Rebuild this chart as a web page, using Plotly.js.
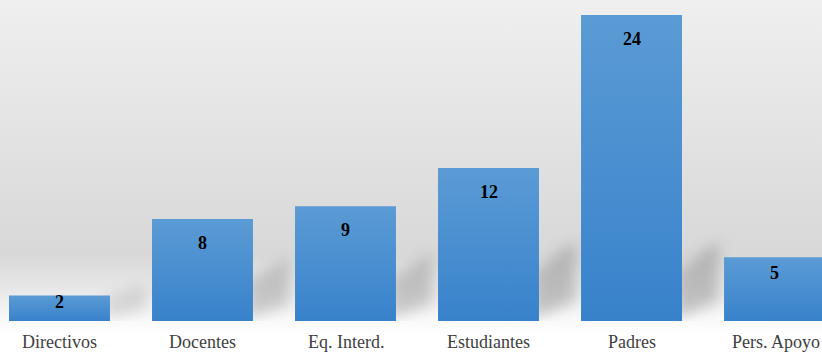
<!DOCTYPE html>
<html>
<head>
<meta charset="utf-8">
<script src="https://cdn.plot.ly/plotly-3.0.1.min.js"></script>
<style>
html,body{margin:0;padding:0;}
#chart{width:822px;height:353px;
background:linear-gradient(to bottom,#efefef 0%,#e4e4e4 35%,#dbdbdb 62%,#d8d8d8 72%,#e8e8e8 82%,#f8f8f8 90%,#ffffff 95%);}
</style>
</head>
<body>
<div id="chart"></div>
<script>
const categories = ["Directivos","Docentes","Eq. Interd.","Estudiantes","Padres","Pers. Apoyo"];
const values = [2, 8, 9, 12, 24, 5];
const tickLabels = ["Directivos","Docentes","Eq. Interd.","Estudiantes","Padres","Pers. Apoyo"];

const serif = "'Liberation Serif', 'Times New Roman', serif";
const plotH = 321, yMax = 25.18;
const pxPerUnit = plotH / yMax;

const valueLabels = values.map((v, i) => ({
  x: categories[i], y: v, xref: 'x', yref: 'y',
  text: '<b>' + v + '</b>', showarrow: false,
  yanchor: 'middle', yshift: -Math.min(24, v * pxPerUnit / 4),
  font: {family: serif, size: 18, color: '#000000'}
}));

const last = categories.length - 1;
const catLabels = tickLabels.map((t, i) => i === last ? ({
  x: 1, xref: 'paper', xanchor: 'right', y: 0, yref: 'paper', yanchor: 'top', yshift: -9,
  text: t, showarrow: false, font: {family: serif, size: 18, color: '#404040'}
}) : ({
  x: categories[i], xref: 'x', xanchor: 'center', y: 0, yref: 'paper', yanchor: 'top', yshift: -9,
  text: t, showarrow: false, font: {family: serif, size: 18, color: '#404040'}
}));

const trace = {
  type: 'bar', x: categories, y: values,
  marker: {color: '#4a8ed2', line: {width: 0}},
  hoverinfo: 'none'
};

const layout = {
  width: 822, height: 353,
  margin: {l: 0, r: 0, t: 0, b: 32, pad: 0},
  paper_bgcolor: 'rgba(0,0,0,0)', plot_bgcolor: 'rgba(0,0,0,0)',
  bargap: 0.294,
  showlegend: false,
  xaxis: {
    range: [-0.416, 5.332], showticklabels: false,
    showgrid: false, zeroline: false, showline: false, ticks: ''
  },
  yaxis: {range: [0, yMax], visible: false, showgrid: false, zeroline: false},
  annotations: valueLabels.concat(catLabels)
};

Plotly.newPlot('chart', [trace], layout, {staticPlot: true, displayModeBar: false}).then(gd => {
  const svg = gd.querySelector('svg.main-svg');
  const ns = 'http://www.w3.org/2000/svg';
  let defs = svg.querySelector('defs');
  if (!defs) { defs = document.createElementNS(ns, 'defs'); svg.insertBefore(defs, svg.firstChild); }
  const g = document.createElementNS(ns, 'linearGradient');
  g.setAttribute('id', 'barGrad'); g.setAttribute('x1', '0'); g.setAttribute('y1', '0');
  g.setAttribute('x2', '0'); g.setAttribute('y2', '1');
  [['0%', '#5b9bd5'], ['100%', '#3882cb']].forEach(([o, c]) => {
    const s = document.createElementNS(ns, 'stop');
    s.setAttribute('offset', o); s.setAttribute('stop-color', c); g.appendChild(s);
  });
  defs.appendChild(g);
  const f = document.createElementNS(ns, 'filter');
  f.setAttribute('id', 'shBlur'); f.setAttribute('x', '-50%'); f.setAttribute('y', '-50%');
  f.setAttribute('width', '200%'); f.setAttribute('height', '200%');
  const fb = document.createElementNS(ns, 'feGaussianBlur');
  fb.setAttribute('stdDeviation', '7'); f.appendChild(fb); defs.appendChild(f);

  const barLayer = gd.querySelector('.barlayer');
  const shadows = document.createElementNS(ns, 'g');
  barLayer.parentNode.insertBefore(shadows, barLayer);
  gd.querySelectorAll('.barlayer .point path').forEach(p => {
    p.style.fill = 'url(#barGrad)';
    const b = p.getBBox();
    const R = b.x + b.width, B = b.y + b.height, h = b.height;
    const s = Math.min(1, h / 150);
    const up = 18 + 30 * s, rise = 10 + 22 * s, w = 36;
    const poly = document.createElementNS(ns, 'polygon');
    poly.setAttribute('points', [
      [R - 6, B - 2], [R - 6, B - up], [R + w, B - up - rise], [R + w, B - rise * 0.5 - 4]
    ].map(q => q.join(',')).join(' '));
    poly.setAttribute('fill', '#808080');
    poly.setAttribute('opacity', (0.2 + 0.22 * s).toFixed(2));
    poly.setAttribute('filter', 'url(#shBlur)');
    shadows.appendChild(poly);
  });
});
</script>
</body>
</html>
